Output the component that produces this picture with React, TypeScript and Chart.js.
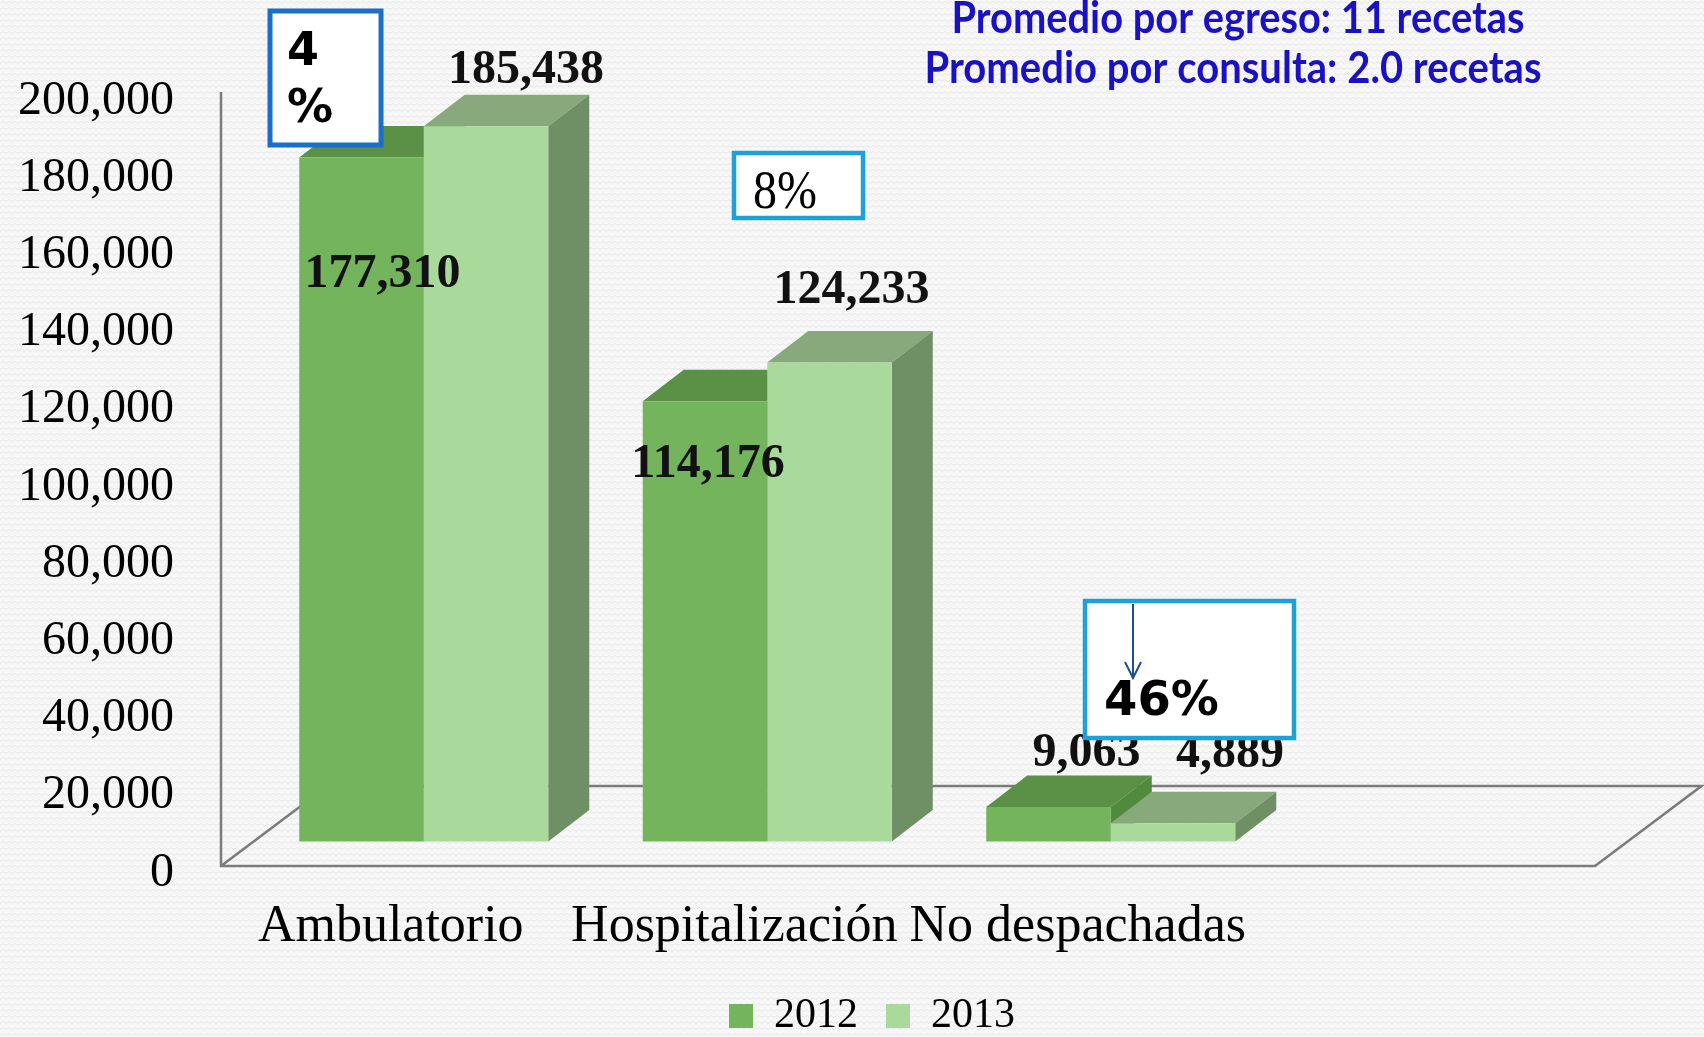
import React, { useEffect, useRef } from 'react';
import { Chart, registerables } from 'chart.js';

Chart.register(...registerables);

// ---- data ----
const categories = ['Ambulatorio', 'Hospitalización', 'No despachadas', ''];
const seriesNames = ['2012', '2013'];
const values2012 = [177310, 114176, 9063, null];
const values2013 = [185438, 124233, 4889, null];
const yMin = 0;
const yMax = 200000;
const yStep = 20000;
const changeLabels = ['4\n%', '8%', '46%'];
const noteLines = ['Promedio por egreso: 11 recetas', 'Promedio por consulta: 2.0 recetas'];

// ---- styles ----
const frontColors = ['#74b45c', '#a9da9b'];
const topColors = ['#5a9146', '#88a97b'];
const sideColors = ['#4f8a3d', '#6f8f64'];
// value-label offsets (px) relative to each bar's top centre: [series][category]
const labelOffsets = [
  [[21, 117], [3, 63], [38, -53]],
  [[40, -56], [22, -72], [57, -69]],
];
const DX = 41;
const DY = 31.5;
const FLOOR_DX = 106.5;
const FLOOR_DY = 80;
const FRONT_SHIFT_X = -31;
const FRONT_SHIFT_Y = 24;

const fmt = (v: number) => Number(v).toLocaleString('en-US');

function makePattern(ctx: CanvasRenderingContext2D) {
  const c = document.createElement('canvas');
  c.width = 6;
  c.height = 6;
  const p = c.getContext('2d') as CanvasRenderingContext2D;
  p.fillStyle = '#f7f7f7';
  p.fillRect(0, 0, 6, 6);
  p.strokeStyle = '#e8e8e8';
  p.lineWidth = 1;
  p.beginPath();
  p.moveTo(0, 3.5);
  p.lineTo(3, 1.5);
  p.lineTo(6, 3.5);
  p.stroke();
  return ctx.createPattern(c, 'repeat');
}

const depthPlugin = {
  id: 'depth3d',
  beforeDraw(chart: any) {
    const ctx = chart.ctx;
    ctx.save();
    ctx.fillStyle = makePattern(ctx) || '#f5f5f5';
    ctx.fillRect(0, 0, chart.width, chart.height);
    ctx.restore();
  },
  beforeDatasetsDraw(chart: any) {
    const { ctx, chartArea } = chart;
    const ys = chart.scales.y;
    const y0 = ys.getPixelForValue(yMin);
    const yT = ys.getPixelForValue(yMax);
    const fx = chartArea.left + FRONT_SHIFT_X;
    const fy = y0 + FRONT_SHIFT_Y;
    const fr = chartArea.right + FRONT_SHIFT_X;
    ctx.save();
    ctx.strokeStyle = '#7b7b7b';
    ctx.lineWidth = 2.5;
    ctx.lineJoin = 'miter';
    ctx.beginPath();
    ctx.moveTo(fx, yT + 22);
    ctx.lineTo(fx, fy);
    ctx.lineTo(fr, fy);
    ctx.lineTo(fr + FLOOR_DX, fy - FLOOR_DY);
    ctx.lineTo(fx + FLOOR_DX, fy - FLOOR_DY);
    ctx.lineTo(fx, fy);
    ctx.stroke();

    for (let i = 0; i < categories.length; i++) {
      for (let d = 0; d < chart.data.datasets.length; d++) {
        const v = chart.data.datasets[d].data[i];
        const el = chart.getDatasetMeta(d).data[i];
        if (v == null || !el) continue;
        const { x, y, base, width } = el.getProps(['x', 'y', 'base', 'width'], true);
        const l = x - width / 2;
        const r = x + width / 2;
        ctx.fillStyle = topColors[d];
        ctx.beginPath();
        ctx.moveTo(l, y);
        ctx.lineTo(r, y);
        ctx.lineTo(r + DX, y - DY);
        ctx.lineTo(l + DX, y - DY);
        ctx.closePath();
        ctx.fill();
        ctx.fillStyle = sideColors[d];
        ctx.beginPath();
        ctx.moveTo(r, y);
        ctx.lineTo(r, base);
        ctx.lineTo(r + DX, base - DY);
        ctx.lineTo(r + DX, y - DY);
        ctx.closePath();
        ctx.fill();
      }
    }
    ctx.restore();
  },
  afterDatasetsDraw(chart: any) {
    const ctx = chart.ctx;
    ctx.save();
    ctx.font = 'bold 48px "Liberation Serif"';
    ctx.textAlign = 'center';
    ctx.textBaseline = 'middle';
    ctx.fillStyle = '#111';
    for (let d = 0; d < chart.data.datasets.length; d++) {
      const meta = chart.getDatasetMeta(d);
      chart.data.datasets[d].data.forEach((v: number | null, i: number) => {
        if (v == null) return;
        const el = meta.data[i];
        const off = labelOffsets[d][i];
        ctx.fillText(fmt(v), el.x + off[0], el.y + off[1]);
      });
    }
    ctx.restore();
  },
  afterDraw(chart: any) {
    const ctx = chart.ctx;
    ctx.save();
    // box 1
    ctx.fillStyle = '#ffffff';
    ctx.fillRect(270, 11, 111, 134);
    ctx.strokeStyle = '#1b6fc8';
    ctx.lineWidth = 5;
    ctx.strokeRect(270, 11, 111, 134);
    ctx.fillStyle = '#000';
    ctx.font = 'bold 46px "DejaVu Sans"';
    ctx.textAlign = 'left';
    ctx.textBaseline = 'middle';
    const l1 = changeLabels[0].split('\n');
    ctx.fillText(l1[0], 287, 53);
    ctx.fillText(l1[1], 287, 110);

    // box 2
    ctx.fillStyle = '#ffffff';
    ctx.fillRect(734, 153, 129, 65);
    ctx.strokeStyle = '#1da1d9';
    ctx.lineWidth = 4.5;
    ctx.strokeRect(734, 153, 129, 65);
    ctx.fillStyle = '#000';
    ctx.save();
    ctx.font = '54px "Liberation Serif"';
    const w8 = ctx.measureText(changeLabels[1]).width;
    ctx.translate(753, 194);
    ctx.scale(64 / w8, 1);
    ctx.fillText(changeLabels[1], 0, 0);
    ctx.restore();

    // box 3
    ctx.fillStyle = '#ffffff';
    ctx.fillRect(1085, 601, 209, 137);
    ctx.strokeStyle = '#1da1d9';
    ctx.lineWidth = 4.5;
    ctx.strokeRect(1085, 601, 209, 137);
    ctx.strokeStyle = '#1f4f8f';
    ctx.lineWidth = 2;
    ctx.beginPath();
    ctx.moveTo(1133, 604);
    ctx.lineTo(1133, 677);
    ctx.moveTo(1125, 662);
    ctx.lineTo(1133, 678);
    ctx.lineTo(1141, 662);
    ctx.stroke();
    ctx.fillStyle = '#000';
    ctx.font = 'bold 48px "DejaVu Sans"';
    ctx.fillText(changeLabels[2], 1104, 703);

    // notes
    ctx.fillStyle = '#1a12c2';
    ctx.font = 'bold 43px Lato';
    ctx.textAlign = 'center';
    const targets = [[1238, 19, 573], [1233, 69, 617]];
    noteLines.forEach((t, k) => {
      const [cx, cy, tw] = targets[k];
      const w = ctx.measureText(t).width;
      ctx.save();
      ctx.translate(cx, cy);
      ctx.scale(tw / w, 1);
      ctx.fillText(t, 0, 0);
      ctx.restore();
    });
    ctx.restore();
  },
};

export default function App() {
  const ref = useRef<HTMLCanvasElement>(null);
  useEffect(() => {
    document.body.style.margin = '0';
    document.body.style.overflow = 'hidden';
    Chart.defaults.color = '#000';
    const chart = new Chart(ref.current as HTMLCanvasElement, {
      type: 'bar',
      data: {
        labels: categories,
        datasets: [
          { label: seriesNames[0], data: values2012, backgroundColor: frontColors[0], borderWidth: 0 },
          { label: seriesNames[1], data: values2013, backgroundColor: frontColors[1], borderWidth: 0 },
        ],
      },
      options: {
        responsive: false,
        animation: false,
        devicePixelRatio: 1,
        datasets: { bar: { categoryPercentage: 0.725, barPercentage: 1.0 } },
        layout: { padding: { left: 0, right: -40, top: 70, bottom: -10 } },
        scales: {
          x: {
            type: 'category',
            grid: { display: false, drawTicks: false },
            border: { display: false },
            ticks: {
              font: { family: 'Liberation Serif', size: 52 },
              color: '#000',
              padding: 54,
              labelOffset: -33,
              maxRotation: 0,
              minRotation: 0,
              autoSkip: false,
            },
            afterFit: (s: any) => { s.height = 125; },
          },
          y: {
            type: 'linear',
            position: 'left',
            min: yMin,
            max: yMax,
            grid: {
              display: true,
              drawOnChartArea: false,
              drawTicks: true,
              tickLength: 78,
              color: 'rgba(0,0,0,0)',
            },
            border: { display: false },
            ticks: {
              stepSize: yStep,
              font: { family: 'Liberation Serif', size: 48 },
              color: '#000',
              padding: 0,
              labelOffset: 31,
              callback: (v: any) => fmt(v),
            },
            afterFit: (s: any) => { s.width = 252; },
          },
          y2: {
            type: 'linear',
            position: 'right',
            display: true,
            grid: { display: false, drawTicks: false },
            border: { display: false },
            ticks: { display: false },
            afterFit: (s: any) => { s.width = 118; },
          },
        },
        plugins: {
          legend: {
            position: 'bottom',
            labels: {
              font: { family: 'Liberation Serif', size: 42 },
              color: '#000',
              boxWidth: 24,
              boxHeight: 24,
              padding: 28,
            },
          },
          tooltip: { enabled: false },
          title: { display: false },
        },
      },
      plugins: [depthPlugin],
    } as any);
    return () => chart.destroy();
  }, []);
  return (
    <div style={{ width: 1704, height: 1037, position: 'relative' }}>
      <canvas ref={ref} width={1704} height={1037} style={{ display: 'block', width: 1704, height: 1037 }} />
    </div>
  );
}
